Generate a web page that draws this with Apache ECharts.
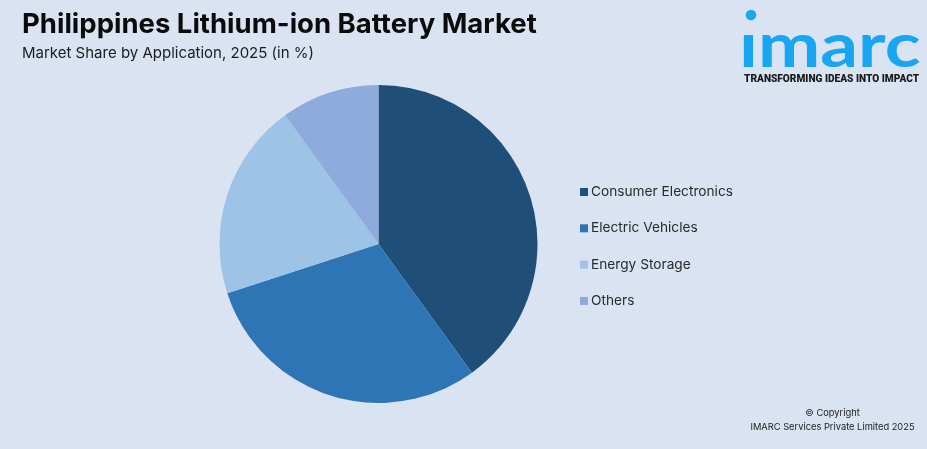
<!DOCTYPE html>
<html><head><meta charset="utf-8">
<style>html,body{margin:0;padding:0;background:#d9e3f2}#c{width:927px;height:449px}</style>
<script src="https://cdn.jsdelivr.net/npm/echarts@6/dist/echarts.min.js"></script>
</head><body><div id="c"></div>
<script>
const categories=["Consumer Electronics","Electric Vehicles","Energy Storage","Others"];
const shares=[40,30,20,10];
const colors=["#1f4e79","#2e75b6","#9dc3e6","#8faadc"];
const titleText="Philippines Lithium-ion Battery Market";
const subtitleText="Market Share by Application, 2025 (in %)";
const copyrightLines=["© Copyright","IMARC Services Private Limited 2025"];
const tagline="TRANSFORMING IDEAS INTO IMPACT";
const chart=echarts.init(document.getElementById('c'),null,{renderer:'canvas'});
chart.setOption({
 backgroundColor:'#d9e3f2',
 animation:false,
 title:[
  {text:titleText,left:22,top:11,padding:0,textStyle:{fontFamily:'Inter',fontWeight:700,fontSize:27.5,color:'#0b0b0b'}},
  {text:subtitleText,left:22,top:46,padding:0,textStyle:{fontFamily:'Inter',fontWeight:400,fontSize:15,color:'#1c1c1c'}}
 ],
 legend:{orient:'vertical',left:580,top:183,padding:0,itemWidth:8,itemHeight:8,itemGap:18.3,icon:'rect',
  data:categories,selectedMode:false,
  textStyle:{fontFamily:'Inter',fontSize:13.7,color:'#2a2a2a',padding:[0,0,0,-2],lineHeight:18}},
 series:[{type:'pie',center:[378.5,244],radius:[0,159],startAngle:90,clockwise:true,
  label:{show:false},labelLine:{show:false},silent:true,
  data:categories.map((n,i)=>({name:n,value:shares[i],itemStyle:{color:colors[i]}}))}],
 color:colors,
 graphic:[
  {type:'circle',shape:{cx:751,cy:15,r:5.3},style:{fill:'#18a6f2'}},
  {type:'text',x:739,y:16,scaleX:1.2,style:{text:'ımarc',fontFamily:'Lato',fontWeight:700,fontSize:62,fill:'#18a6f2'}},
  {type:'text',left:744,top:74,style:{text:tagline,fontFamily:'Roboto',fontWeight:900,fontSize:10.15,fill:'#1a1a1a'}},
  {type:'text',x:832.5,y:409,style:{text:copyrightLines[0],align:'center',fontFamily:'Inter',fontSize:9.3,fill:'#222'}},
  {type:'text',x:832.5,y:423,style:{text:copyrightLines[1],align:'center',fontFamily:'Inter',fontSize:9.3,fill:'#222'}}
 ]
});
</script></body></html>
